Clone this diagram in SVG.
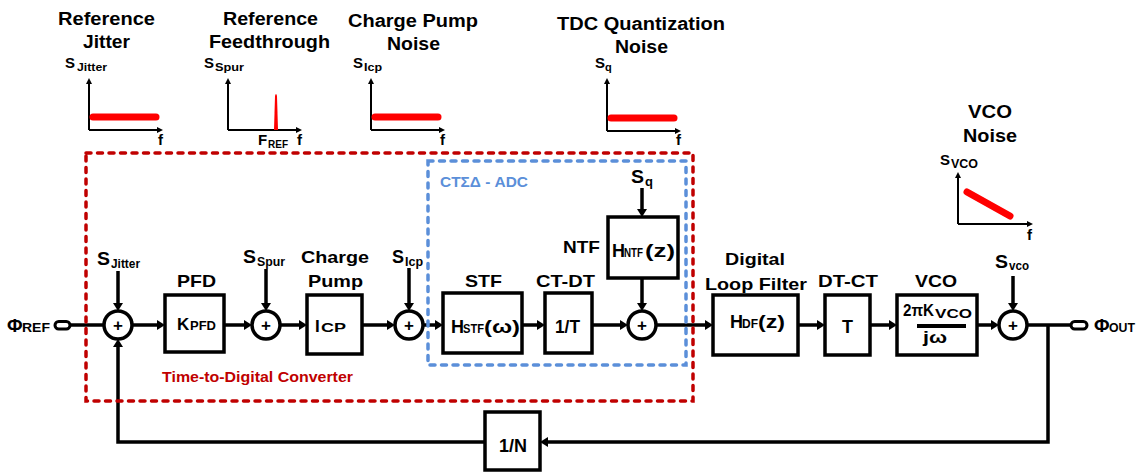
<svg xmlns="http://www.w3.org/2000/svg" width="1148" height="473" viewBox="0 0 1148 473">
<style>
.t{font-family:"Liberation Sans",Arial,sans-serif;font-weight:bold;fill:#000}
.ln{fill:none;stroke:#000;stroke-width:3.5;stroke-linejoin:miter}
.bx{fill:#fff;stroke:#000;stroke-width:3.5}
.sum{fill:#fff;stroke:#000;stroke-width:3.5}
.ax{fill:none;stroke:#000;stroke-width:2}
.ns{fill:none;stroke:#f00;stroke-width:7;stroke-linecap:round}
.red{fill:none;stroke:#c00000;stroke-width:3.5;stroke-dasharray:5 6.5;stroke-linecap:round}
.blue{fill:none;stroke:#5b8fd9;stroke-width:3.5;stroke-dasharray:5 6.5;stroke-linecap:round}
.h{font-size:18px}
.b{font-size:17px}
.s{font-size:12px}
</style>
<defs>
<marker id="ah" viewBox="0 0 8 10" refX="4" refY="5" markerWidth="8" markerHeight="10" markerUnits="userSpaceOnUse" orient="auto">
<path d="M0,0 L8,5 L0,10 z" fill="#000"/>
</marker>
<marker id="sa" viewBox="0 0 6 6" refX="3" refY="3" markerWidth="6" markerHeight="6" markerUnits="userSpaceOnUse" orient="auto">
<path d="M0,0 L6,3 L0,6 z" fill="#000"/>
</marker>
</defs>

<!-- noise spectra -->
<g id="spec-jitter">
<text class="t h" x="58" y="25" textLength="97" lengthAdjust="spacingAndGlyphs">Reference</text>
<text class="t h" x="83" y="48" textLength="47" lengthAdjust="spacingAndGlyphs">Jitter</text>
<text class="t" font-size="15" x="65" y="68">S</text>
<text class="t" font-size="11" x="77" y="71" textLength="30" lengthAdjust="spacingAndGlyphs">Jitter</text>
<path class="ax" d="M89,130 V81" marker-end="url(#sa)"/>
<path class="ax" d="M89,130 H160" marker-end="url(#sa)"/>
<path class="ns" d="M93,117 H156"/>
<text class="t" font-size="15" x="158" y="145">f</text>
</g>
<g id="spec-spur">
<text class="t h" x="223" y="25" textLength="95" lengthAdjust="spacingAndGlyphs">Reference</text>
<text class="t h" x="209" y="48" textLength="121" lengthAdjust="spacingAndGlyphs">Feedthrough</text>
<text class="t" font-size="15" x="204" y="68">S</text>
<text class="t" font-size="11" x="215" y="71" textLength="29" lengthAdjust="spacingAndGlyphs">Spur</text>
<path class="ax" d="M228,130 V81" marker-end="url(#sa)"/>
<path class="ax" d="M228,130 H299" marker-end="url(#sa)"/>
<path d="M274,130 L275,96 Q276,92 277,96 L278,130 z" fill="#f00"/>
<text class="t" font-size="15" x="258" y="145">F</text>
<text class="t" font-size="10" x="268" y="148" textLength="20" lengthAdjust="spacingAndGlyphs">REF</text>
<text class="t" font-size="15" x="297" y="145">f</text>
</g>
<g id="spec-cp">
<text class="t h" x="348" y="27" textLength="130" lengthAdjust="spacingAndGlyphs">Charge Pump</text>
<text class="t h" x="387" y="50" textLength="53" lengthAdjust="spacingAndGlyphs">Noise</text>
<text class="t" font-size="15" x="353" y="68">S</text>
<text class="t" font-size="11" x="364" y="71" textLength="18" lengthAdjust="spacingAndGlyphs">Icp</text>
<path class="ax" d="M371,130 V81" marker-end="url(#sa)"/>
<path class="ax" d="M371,130 H442" marker-end="url(#sa)"/>
<path class="ns" d="M375,117 H438"/>
<text class="t" font-size="15" x="440" y="145">f</text>
</g>
<g id="spec-tdc">
<text class="t h" x="557" y="30" textLength="168" lengthAdjust="spacingAndGlyphs">TDC Quantization</text>
<text class="t h" x="615" y="53" textLength="53" lengthAdjust="spacingAndGlyphs">Noise</text>
<text class="t" font-size="15" x="595" y="68">S</text>
<text class="t" font-size="11" x="605" y="71">q</text>
<path class="ax" d="M607,131 V81" marker-end="url(#sa)"/>
<path class="ax" d="M607,131 H678" marker-end="url(#sa)"/>
<path class="ns" d="M611,118 H674"/>
<text class="t" font-size="15" x="676" y="145">f</text>
</g>
<g id="spec-vco">
<text class="t h" x="968" y="118" textLength="44" lengthAdjust="spacingAndGlyphs">VCO</text>
<text class="t h" x="963" y="142" textLength="54" lengthAdjust="spacingAndGlyphs">Noise</text>
<text class="t" font-size="15" x="940" y="165">S</text>
<text class="t" font-size="12" x="951" y="168" textLength="27" lengthAdjust="spacingAndGlyphs">VCO</text>
<path class="ax" d="M958,224 V175" marker-end="url(#sa)"/>
<path class="ax" d="M958,224 H1030" marker-end="url(#sa)"/>
<path class="ns" d="M967,192 L1010,216"/>
<text class="t" font-size="15" x="1027" y="240">f</text>
</g>

<!-- connectors -->
<g id="connectors">
<path class="ln" d="M70,325 H104"/>
<path class="ln" d="M118,271 V307" marker-end="url(#ah)"/>
<path class="ln" d="M485,442 H118 V343" marker-end="url(#ah)"/>
<path class="ln" d="M132,325 H161" marker-end="url(#ah)"/>
<path class="ln" d="M224,325 H248" marker-end="url(#ah)"/>
<path class="ln" d="M266,269 V307" marker-end="url(#ah)"/>
<path class="ln" d="M280,325 H303" marker-end="url(#ah)"/>
<path class="ln" d="M362,325 H391" marker-end="url(#ah)"/>
<path class="ln" d="M409,268 V307" marker-end="url(#ah)"/>
<path class="ln" d="M423,325 H439" marker-end="url(#ah)"/>
<path class="ln" d="M522,325 H541" marker-end="url(#ah)"/>
<path class="ln" d="M592,325 H624" marker-end="url(#ah)"/>
<path class="ln" d="M642,278 V307" marker-end="url(#ah)"/>
<path class="ln" d="M642,188 V213" marker-end="url(#ah)"/>
<path class="ln" d="M656,325 H709" marker-end="url(#ah)"/>
<path class="ln" d="M798,325 H821" marker-end="url(#ah)"/>
<path class="ln" d="M870,325 H893" marker-end="url(#ah)"/>
<path class="ln" d="M977,325 H995" marker-end="url(#ah)"/>
<path class="ln" d="M1013,276 V307" marker-end="url(#ah)"/>
<path class="ln" d="M1027,325 H1072"/>
<path class="ln" d="M1048,325 V442 H544" marker-end="url(#ah)"/>
</g>

<!-- groups (dashed regions) -->
<g id="tdc-region">
<rect class="red" x="86" y="153" width="607" height="248"/>
<text class="t" font-size="15" style="fill:#c00000" x="162" y="382" textLength="191" lengthAdjust="spacingAndGlyphs">Time-to-Digital Converter</text>
</g>
<g id="adc-region">
<rect class="blue" x="428" y="161" width="258" height="204"/>
<text class="t" font-size="15" style="fill:#5b8fd9" x="440" y="187" textLength="88" lengthAdjust="spacingAndGlyphs">CTΣΔ - ADC</text>
</g>

<!-- ports -->
<g id="phi-ref">
<text class="t" font-size="19" x="7" y="332">Φ</text>
<text class="t s" x="22" y="332" textLength="28" lengthAdjust="spacingAndGlyphs">REF</text>
<rect x="55" y="321.5" width="15" height="7.5" rx="3.7" fill="#fff" stroke="#000" stroke-width="3"/>
</g>
<g id="phi-out">
<rect x="1071" y="321.5" width="16" height="7.5" rx="3.7" fill="#fff" stroke="#000" stroke-width="3"/>
<text class="t" font-size="19" x="1094" y="332">Φ</text>
<text class="t s" x="1109" y="332" textLength="26" lengthAdjust="spacingAndGlyphs">OUT</text>
</g>

<!-- summing nodes -->
<g id="sum1">
<circle class="sum" cx="118" cy="325" r="14"/>
<text class="t" font-size="17" x="118" y="331" text-anchor="middle">+</text>
<text class="t h" x="97" y="265" textLength="13" lengthAdjust="spacingAndGlyphs">S</text>
<text class="t s" x="111" y="268" textLength="29" lengthAdjust="spacingAndGlyphs">Jitter</text>
</g>
<g id="sum2">
<circle class="sum" cx="266" cy="325" r="14"/>
<text class="t" font-size="17" x="266" y="331" text-anchor="middle">+</text>
<text class="t h" x="243" y="263" textLength="13" lengthAdjust="spacingAndGlyphs">S</text>
<text class="t s" x="257" y="266" textLength="28" lengthAdjust="spacingAndGlyphs">Spur</text>
</g>
<g id="sum3">
<circle class="sum" cx="409" cy="325" r="14"/>
<text class="t" font-size="17" x="409" y="331" text-anchor="middle">+</text>
<text class="t h" x="392" y="263" textLength="12" lengthAdjust="spacingAndGlyphs">S</text>
<text class="t s" x="405" y="266" textLength="18" lengthAdjust="spacingAndGlyphs">Icp</text>
</g>
<g id="sum4">
<circle class="sum" cx="642" cy="325" r="14"/>
<text class="t" font-size="17" x="642" y="331" text-anchor="middle">+</text>
<text class="t h" x="631" y="183" textLength="13" lengthAdjust="spacingAndGlyphs">S</text>
<text class="t" font-size="13" x="645" y="186">q</text>
</g>
<g id="sum5">
<circle class="sum" cx="1013" cy="325" r="14"/>
<text class="t" font-size="17" x="1013" y="331" text-anchor="middle">+</text>
<text class="t h" x="995" y="268" textLength="13" lengthAdjust="spacingAndGlyphs">S</text>
<text class="t s" x="1009" y="270" textLength="20" lengthAdjust="spacingAndGlyphs">vco</text>
</g>

<!-- blocks -->
<g id="pfd">
<text class="t b" x="177" y="287" textLength="39" lengthAdjust="spacingAndGlyphs">PFD</text>
<rect class="bx" x="165" y="295" width="59" height="57"/>
<text class="t b" x="177" y="330">K</text>
<text class="t s" x="190" y="330" textLength="26" lengthAdjust="spacingAndGlyphs">PFD</text>
</g>
<g id="charge-pump">
<text class="t b" x="301" y="263" textLength="68" lengthAdjust="spacingAndGlyphs">Charge</text>
<text class="t b" x="308" y="287" textLength="55" lengthAdjust="spacingAndGlyphs">Pump</text>
<rect class="bx" x="307" y="295" width="55" height="59"/>
<text class="t b" x="315" y="332">I</text>
<text class="t s" x="321" y="332" textLength="25" lengthAdjust="spacingAndGlyphs">CP</text>
</g>
<g id="stf">
<text class="t b" x="465" y="287" textLength="37" lengthAdjust="spacingAndGlyphs">STF</text>
<rect class="bx" x="443" y="293" width="79" height="60"/>
<text class="t h" x="451" y="333">H</text>
<text class="t s" x="463" y="333" textLength="21" lengthAdjust="spacingAndGlyphs">STF</text>
<text class="t h" x="484" y="333" textLength="36" lengthAdjust="spacingAndGlyphs">(ω)</text>
</g>
<g id="ct-dt">
<text class="t b" x="536" y="287" textLength="59" lengthAdjust="spacingAndGlyphs">CT-DT</text>
<rect class="bx" x="545" y="293" width="47" height="60"/>
<text class="t h" x="555" y="333" textLength="25" lengthAdjust="spacingAndGlyphs">1/T</text>
</g>
<g id="ntf">
<text class="t b" x="563" y="253" textLength="37" lengthAdjust="spacingAndGlyphs">NTF</text>
<rect class="bx" x="608" y="217" width="70" height="61"/>
<text class="t h" x="612" y="257">H</text>
<text class="t s" x="624" y="257" textLength="19" lengthAdjust="spacingAndGlyphs">NTF</text>
<text class="t h" x="645" y="257" textLength="30" lengthAdjust="spacingAndGlyphs">(z)</text>
</g>
<g id="loop-filter">
<text class="t b" x="725" y="265" textLength="60" lengthAdjust="spacingAndGlyphs">Digital</text>
<text class="t b" x="705" y="290" textLength="102" lengthAdjust="spacingAndGlyphs">Loop Filter</text>
<rect class="bx" x="713" y="295" width="85" height="60"/>
<text class="t h" x="730" y="328">H</text>
<text class="t s" x="742" y="328" textLength="16" lengthAdjust="spacingAndGlyphs">DF</text>
<text class="t h" x="758" y="328" textLength="27" lengthAdjust="spacingAndGlyphs">(z)</text>
</g>
<g id="dt-ct">
<text class="t b" x="818" y="287" textLength="60" lengthAdjust="spacingAndGlyphs">DT-CT</text>
<rect class="bx" x="825" y="295" width="45" height="60"/>
<text class="t h" x="842" y="333" textLength="11" lengthAdjust="spacingAndGlyphs">T</text>
</g>
<g id="vco">
<text class="t b" x="915" y="287" textLength="42" lengthAdjust="spacingAndGlyphs">VCO</text>
<rect class="bx" x="897" y="295" width="80" height="60"/>
<text class="t" font-size="16" x="903" y="316" textLength="31" lengthAdjust="spacingAndGlyphs">2πK</text>
<text class="t" font-size="13" x="935" y="318" textLength="37" lengthAdjust="spacingAndGlyphs">VCO</text>
<line x1="917" y1="326" x2="966" y2="326" stroke="#000" stroke-width="4"/>
<text class="t" font-size="16" x="923" y="343" textLength="24" lengthAdjust="spacingAndGlyphs">jω</text>
</g>
<g id="divider">
<rect class="bx" x="485" y="412" width="55" height="58"/>
<text class="t h" x="499" y="452" textLength="28" lengthAdjust="spacingAndGlyphs">1/N</text>
</g>
</svg>
